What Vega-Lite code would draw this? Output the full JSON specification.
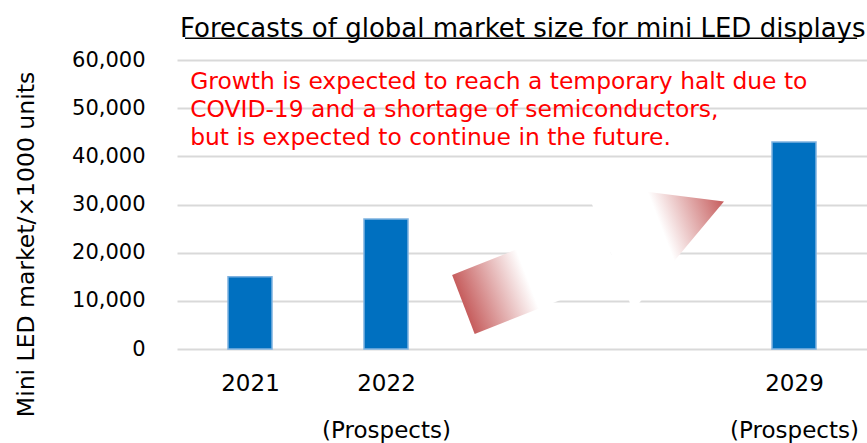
{
  "$schema": "https://vega.github.io/schema/vega-lite/v6.json",
  "autosize": "none",
  "width": 690,
  "height": 289,
  "padding": {"left": 177, "top": 60, "right": 0, "bottom": 94},
  "background": "#ffffff",
  "config": {"view": {"stroke": null}},
  "title": {
    "text": "Forecasts of global market size for mini LED displays",
    "anchor": "start",
    "frame": "group",
    "font": "DejaVu Sans",
    "fontSize": 26,
    "fontWeight": "normal",
    "color": "#000000",
    "baseline": "alphabetic",
    "offset": 0,
    "dx": 3,
    "dy": 25
  },
  "datasets": {
    "bars": [
      {"year": "2021", "slot": 0, "value": 15000},
      {"year": "2022", "slot": 1, "value": 27000},
      {"year": "2029", "slot": 4, "value": 43000}
    ],
    "shaft": [
      {"x": 1.486, "top": 15362, "bot": 15362},
      {"x": 1.652, "top": 17231, "bot": 3114},
      {"x": 2.553, "top": 27279, "bot": 13162},
      {"x": 2.720, "top": 15030, "bot": 15030}
    ],
    "head": [
      {"x": 2.457, "top": 34316, "bot": 34316},
      {"x": 2.815, "top": 33029, "bot": 7993},
      {"x": 3.485, "top": 30621, "bot": 30621}
    ],
    "one": [{}]
  },
  "resolve": {"axis": {"x": "independent", "y": "independent"}},
  "layer": [
    {
      "data": {"name": "bars"},
      "mark": {"type": "bar", "width": 44, "color": "#0070C0", "stroke": "#7FB2E0", "strokeWidth": 1.5},
      "encoding": {
        "x": {
          "field": "slot", "type": "quantitative",
          "scale": {"domain": [-0.5, 4.5], "nice": false, "zero": false},
          "axis": {
            "values": [0, 1, 4],
            "labelExpr": "datum.value == 0 ? '2021' : datum.value == 1 ? ['2022', '(Prospects)'] : ['2029', '(Prospects)']",
            "labelFont": "DejaVu Sans",
            "labelFontSize": 23,
            "labelColor": "#000000",
            "labelBaseline": "top",
            "labelLineHeight": 47,
            "labelPadding": 23,
            "labelFlush": false,
            "labelOverlap": false,
            "grid": false,
            "ticks": false,
            "domain": false,
            "title": null
          }
        },
        "y": {
          "field": "value", "type": "quantitative",
          "scale": {"domain": [0, 60000], "nice": false},
          "axis": {
            "values": [0, 10000, 20000, 30000, 40000, 50000, 60000],
            "format": ",d",
            "labelFont": "DejaVu Sans",
            "labelFontSize": 21,
            "labelColor": "#000000",
            "labelPadding": 32,
            "grid": true,
            "gridColor": "#d9d9d9",
            "gridWidth": 2,
            "ticks": false,
            "domain": false,
            "title": "Mini LED market/×1000 units",
            "titleFont": "DejaVu Sans",
            "titleFontSize": 23.5,
            "titleFontWeight": "normal",
            "titleColor": "#000000",
            "titleAngle": -90,
            "titleAlign": "center",
            "titleBaseline": "middle",
            "titleX": -151,
            "titleY": 184
          }
        }
      }
    },
    {
      "data": {"name": "shaft"},
      "mark": {
        "type": "area", "opacity": 1, "interpolate": "linear",
        "color": {
          "gradient": "linear",
          "x1": 0.068, "y1": 0.747, "x2": 0.479, "y2": 0.637,
          "stops": [{"offset": 0, "color": "#c65d5d"}, {"offset": 1, "color": "#ffffff"}]
        }
      },
      "encoding": {
        "x": {"field": "x", "type": "quantitative", "scale": {"domain": [-0.5, 4.5], "nice": false, "zero": false}, "axis": null},
        "y": {"field": "top", "type": "quantitative", "scale": {"domain": [0, 60000], "nice": false}, "axis": null},
        "y2": {"field": "bot"}
      }
    },
    {
      "data": {"name": "head"},
      "mark": {
        "type": "area", "opacity": 1, "interpolate": "linear",
        "color": {
          "gradient": "linear",
          "x1": 0.549, "y1": 0.338, "x2": 1.012, "y2": 0.176,
          "stops": [{"offset": 0, "color": "#ffffff"}, {"offset": 1, "color": "#c65d5d"}]
        }
      },
      "encoding": {
        "x": {"field": "x", "type": "quantitative", "scale": {"domain": [-0.5, 4.5], "nice": false, "zero": false}, "axis": null},
        "y": {"field": "top", "type": "quantitative", "scale": {"domain": [0, 60000], "nice": false}, "axis": null},
        "y2": {"field": "bot"}
      }
    },
    {
      "data": {"name": "one"},
      "mark": {
        "type": "text", "align": "left", "baseline": "top",
        "font": "DejaVu Sans", "fontSize": 23.4, "lineHeight": 28, "color": "#ff0000"
      },
      "encoding": {
        "x": {"datum": -0.44, "type": "quantitative", "axis": null},
        "y": {"datum": 57820, "type": "quantitative", "axis": null},
        "text": {"value": ["Growth is expected to reach a temporary halt due to", "COVID-19 and a shortage of semiconductors,", "but is expected to continue in the future."]}
      }
    },
    {
      "data": {"name": "one"},
      "mark": {"type": "rule", "color": "#000000", "strokeWidth": 1.5},
      "encoding": {
        "x": {"datum": -0.478, "type": "quantitative", "axis": null},
        "x2": {"datum": 4.464},
        "y": {"datum": 64500, "type": "quantitative", "axis": null}
      }
    }
  ]
}
